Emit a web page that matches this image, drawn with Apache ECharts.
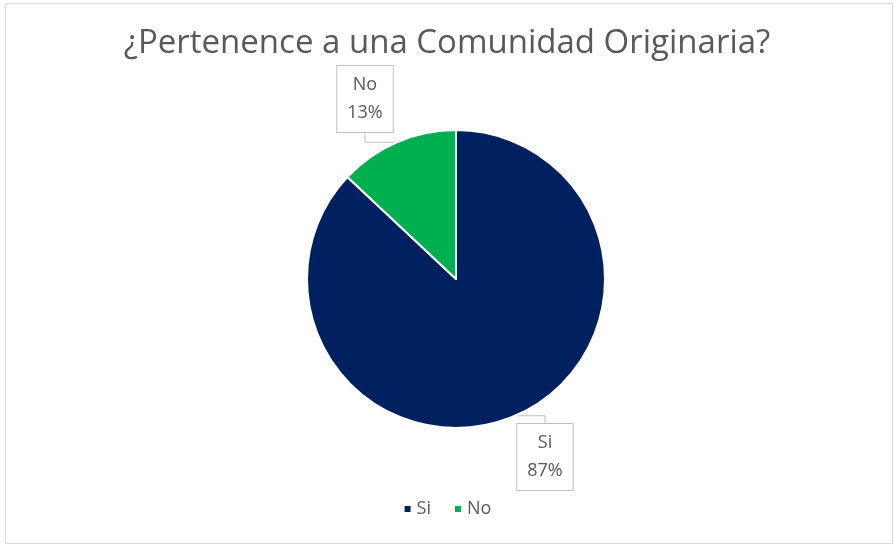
<!DOCTYPE html>
<html>
<head>
<meta charset="utf-8">
<script src="https://cdn.jsdelivr.net/npm/echarts@6/dist/echarts.min.js"></script>
<style>
  html, body { margin: 0; padding: 0; background: #fff; }
  #echartbox { width: 894px; height: 545px; }
</style>
</head>
<body>
<div id="echartbox"></div>
<script>
// datos
var categorias = ['Si', 'No'];
var valores = [87, 13];
var colores = ['#002060', '#00b050'];

var myChart = echarts.init(document.getElementById('echartbox'));

var data = categorias.map(function(c, i) {
    return { name: c, value: valores[i], itemStyle: { color: colores[i] } };
});

// posicion de las etiquetas tipo "globo"
var etiquetaPos = {
    'Si': [545, 457],
    'No': [365, 99]
};

var option = {
    textStyle: { fontFamily: 'Open Sans' },
    title: {
        text: '¿Pertenence a una Comunidad Originaria?',
        left: 'center',
        top: 22,
        textStyle: {
            color: '#595959',
            fontSize: 33,
            fontWeight: 'normal',
            fontFamily: 'Open Sans'
        }
    },
    legend: {
        bottom: 22,
        left: 'center',
        itemWidth: 8,
        itemHeight: 8,
        itemGap: 22,
        icon: 'rect',
        data: categorias,
        textStyle: { color: '#595959', fontSize: 18, fontFamily: 'Open Sans' }
    },
    graphic: [{
        type: 'rect',
        shape: { x: 5.5, y: 3.5, width: 887, height: 540 },
        style: { fill: 'none', stroke: '#d9d9d9', lineWidth: 1 },
        silent: true
    }],
    series: [{
        type: 'pie',
        center: [456, 279],
        radius: 149,
        startAngle: 90,
        clockwise: true,
        data: data,
        itemStyle: { borderColor: '#fff', borderWidth: 2 },
        label: {
            show: true,
            formatter: '{b}\n{d}%',
            color: '#595959',
            fontSize: 18,
            lineHeight: 28,
            fontFamily: 'Open Sans',
            backgroundColor: '#fff',
            borderColor: '#bfbfbf',
            borderWidth: 1,
            padding: [6, 10, 4, 10],
            align: 'center'
        },
        labelLine: {
            show: true,
            length: 10,
            length2: 10,
            lineStyle: { color: '#bfbfbf', width: 1 }
        },
        labelLayout: function(params) {
            var p = etiquetaPos[categorias[params.dataIndex]];
            return { x: p[0], y: p[1], align: 'center', verticalAlign: 'middle' };
        },
        animation: false
    }]
};

myChart.setOption(option);
</script>
</body>
</html>
